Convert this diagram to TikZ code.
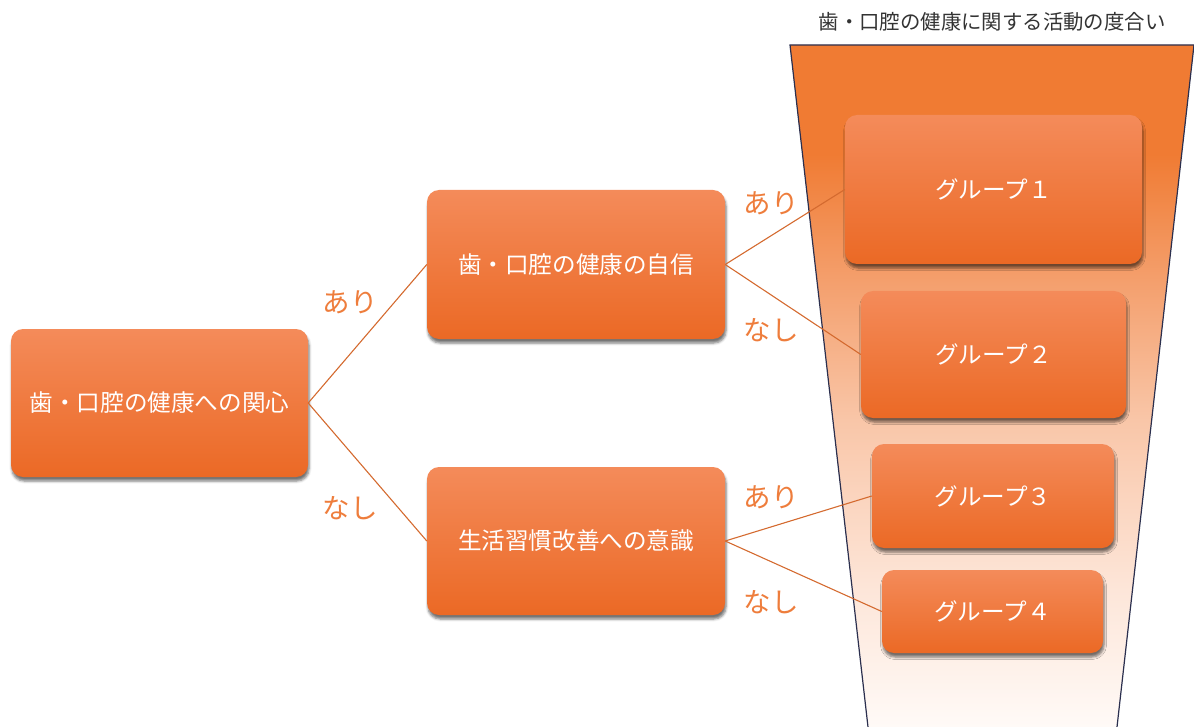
\documentclass[tikz,border=0pt]{standalone}
\usepackage{fontspec}
\setmainfont{Noto Sans CJK JP}
\usetikzlibrary{shadows.blur}
\definecolor{boxtop}{HTML}{F48B5A}
\definecolor{boxbot}{HTML}{EB6925}
\definecolor{connc}{HTML}{D46A2F}
\definecolor{labc}{HTML}{EE7D3C}
\definecolor{navy}{HTML}{2B2F4E}
\definecolor{fA}{HTML}{FFFAF7}
\definecolor{fB}{HTML}{FDE6D9}
\definecolor{fC}{HTML}{F9C6A8}
\definecolor{fD}{HTML}{F4A06E}
\definecolor{fE}{HTML}{F07B33}
\pgfdeclareverticalshading{funnel}{100bp}{color(0bp)=(fA); color(25bp)=(fA); color(35bp)=(fB); color(47.5bp)=(fC); color(57.5bp)=(fD); color(67bp)=(fE); color(100bp)=(fE)}
\tikzset{
  box/.style={rectangle, rounded corners=12pt, top color=boxtop, bottom color=boxbot,
    draw=none, text=white, font=\fontsize{23.6}{27}\selectfont, inner sep=0pt,
    blur shadow={shadow xshift=1pt, shadow yshift=-4pt, shadow blur radius=2.5pt, shadow opacity=55}},
  conn/.style={draw=connc, line width=1.1pt},
  lab/.style={text=labc, font=\fontsize{27.5}{31}\selectfont, inner sep=0pt},
}
\begin{document}
\begin{tikzpicture}[x=1pt,y=-1pt]
\useasboundingbox (0,0) rectangle (1194,727);
% funnel
\shade[shading=funnel] (790,45) -- (1194,45) -- (1117,727) -- (868,727) -- cycle;
\draw[navy, line width=1.2pt] (868,727) -- (790,45) -- (1194,45) -- (1117,727);
\node[text=black!80, font=\fontsize{20.4}{24}\selectfont] (title) at (992,22) {歯・口腔の健康に関する活動の度合い};
% boxes
\node[box, minimum width=297pt, minimum height=148pt] (root) at (159.5,403) {歯・口腔の健康への関心};
\node[box, minimum width=298pt, minimum height=149pt] (b2) at (576,264.5) {歯・口腔の健康の自信};
\node[box, minimum width=298pt, minimum height=148pt] (b3) at (576,541) {生活習慣改善への意識};
\node[box, minimum width=297pt, minimum height=149pt] (g1) at (993.5,189.5) {グループ１};
\node[box, minimum width=265pt, minimum height=127pt] (g2) at (993.5,354.5) {グループ２};
\node[box, minimum width=242pt, minimum height=104pt] (g3) at (993,496) {グループ３};
\node[box, minimum width=221pt, minimum height=83pt] (g4) at (992.5,611.5) {グループ４};
% connectors
\draw[conn] (root.east) -- (b2.west);
\draw[conn] (root.east) -- (b3.west);
\draw[conn] (b2.east) -- (g1.west);
\draw[conn] (b2.east) -- (g2.west);
\draw[conn] (b3.east) -- (g3.west);
\draw[conn] (b3.east) -- (g4.west);
% labels
\node[lab] (l1) at (350,302) {あり};
\node[lab] (l2) at (350,508) {なし};
\node[lab] (l3) at (771,203) {あり};
\node[lab] (l4) at (771,330) {なし};
\node[lab] (l5) at (771,497) {あり};
\node[lab] (l6) at (771,602) {なし};
\end{tikzpicture}
\end{document}
